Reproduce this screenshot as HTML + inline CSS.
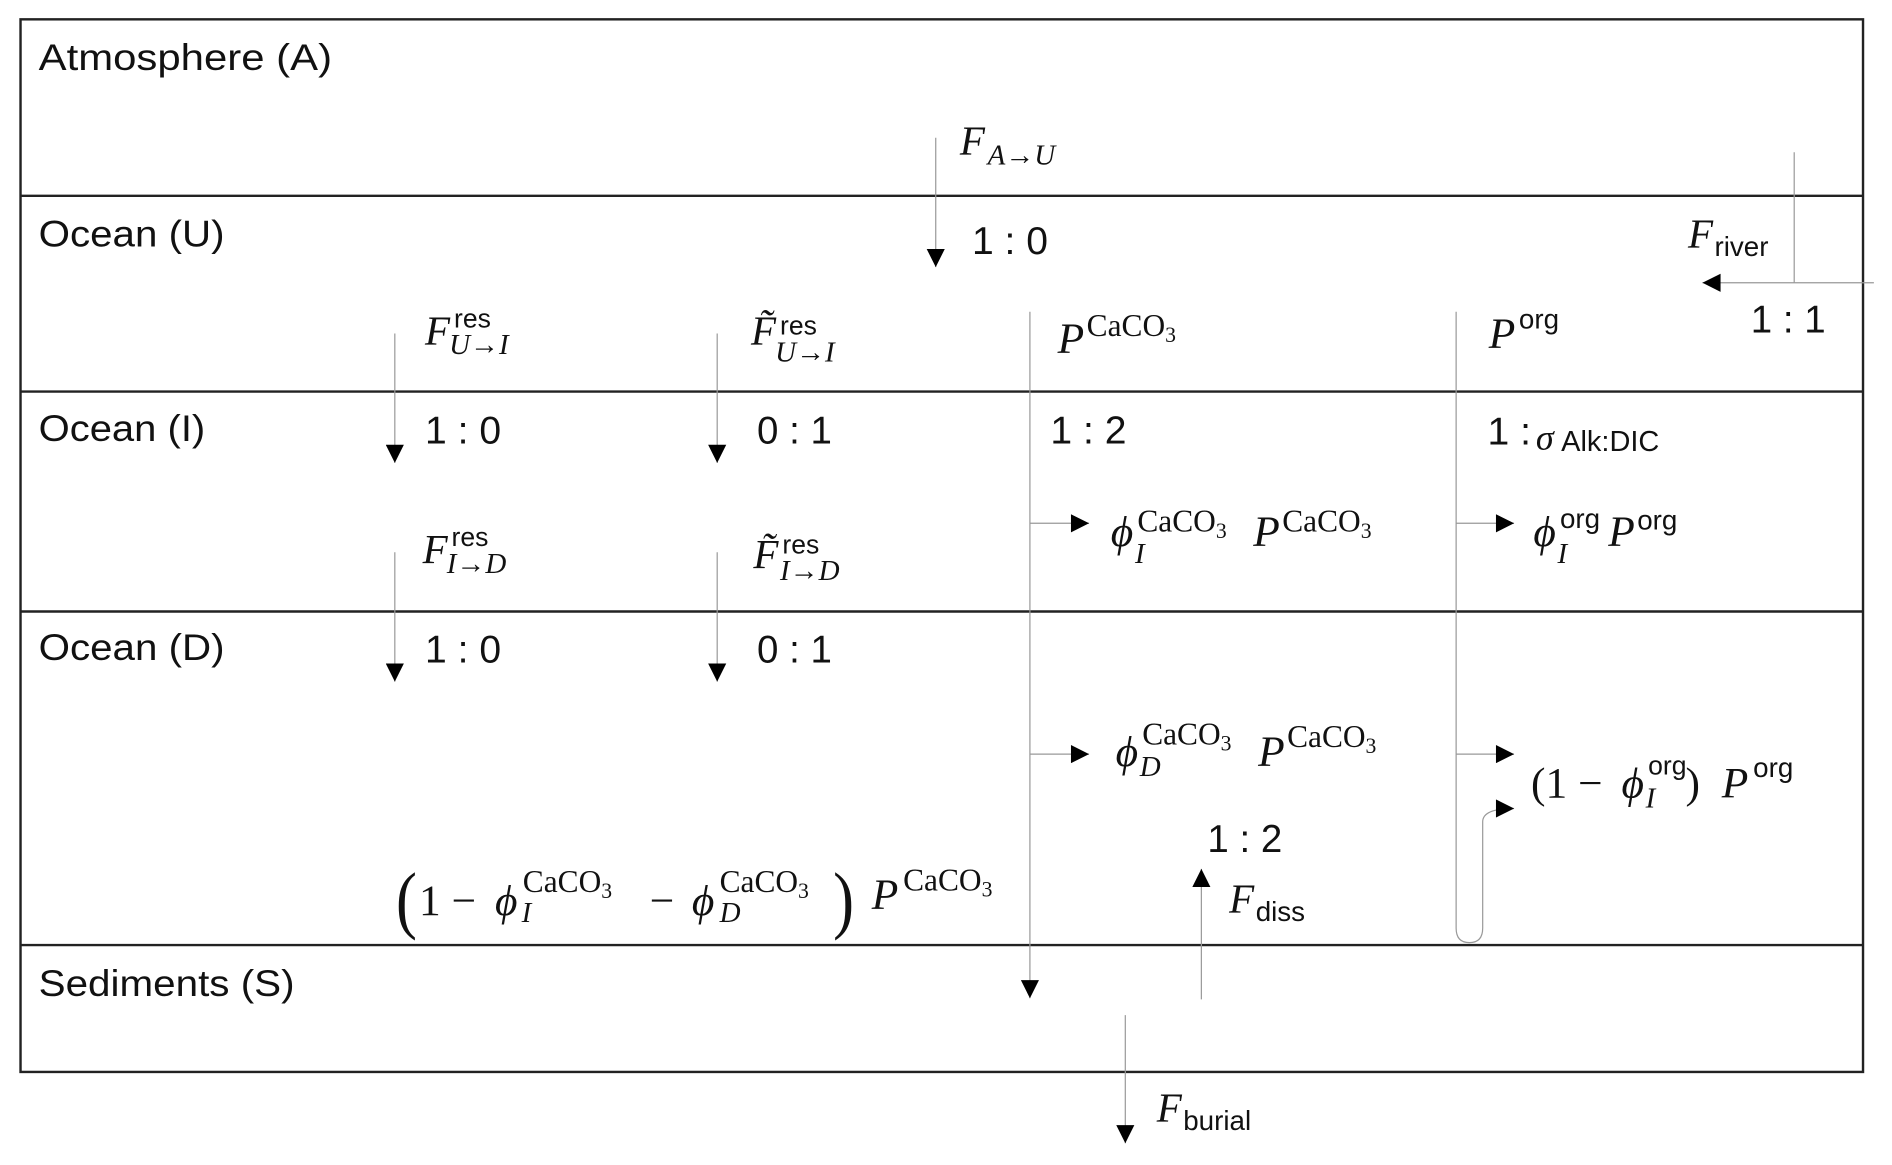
<!DOCTYPE html>
<html><head><meta charset="utf-8"><style>
html,body{margin:0;padding:0;background:#fff;}
svg{display:block;}
.s{font-family:"Liberation Sans","DejaVu Sans",sans-serif;fill:#111;}
.m{font-family:"Liberation Serif",serif;font-style:italic;fill:#111;}
.r{font-family:"Liberation Serif",serif;fill:#111;}
</style></head><body>
<svg width="1892" height="1165" viewBox="0 0 1567 964" preserveAspectRatio="none" xmlns="http://www.w3.org/2000/svg">
<defs>
<marker id="av" viewBox="0 0 10 10" markerWidth="18" markerHeight="15" refX="10" refY="5" orient="auto" markerUnits="userSpaceOnUse">
<path d="M0,0 L10,5 L0,10 z" fill="#000"/></marker>
</defs>
<rect x="17" y="16" width="1526" height="871" fill="none" stroke="#222" stroke-width="2"/>
<g stroke="#222" stroke-width="2">
<line x1="17" y1="162" x2="1543" y2="162"/><line x1="17" y1="324" x2="1543" y2="324"/>
<line x1="17" y1="506" x2="1543" y2="506"/><line x1="17" y1="782" x2="1543" y2="782"/>
</g>
<g class="s" font-size="31">
<text x="32" y="58" textLength="243" lengthAdjust="spacingAndGlyphs">Atmosphere (A)</text>
<text x="32" y="204" textLength="154" lengthAdjust="spacingAndGlyphs">Ocean (U)</text>
<text x="32" y="365" textLength="138" lengthAdjust="spacingAndGlyphs">Ocean (I)</text>
<text x="32" y="546" textLength="154" lengthAdjust="spacingAndGlyphs">Ocean (D)</text>
<text x="32" y="824" textLength="212" lengthAdjust="spacingAndGlyphs">Sediments (S)</text>
</g>
<g stroke="#999" stroke-width="1" fill="none" marker-end="url(#av)">
<line x1="775" y1="114" x2="775" y2="221"/>
<line x1="327" y1="276" x2="327" y2="383"/>
<line x1="594" y1="276" x2="594" y2="383"/>
<line x1="327" y1="457" x2="327" y2="564"/>
<line x1="594" y1="457" x2="594" y2="564"/>
<line x1="853" y1="258" x2="853" y2="826"/>
<line x1="853" y1="433" x2="902" y2="433"/>
<line x1="853" y1="624" x2="902" y2="624"/>
<line x1="1206" y1="433" x2="1254" y2="433"/>
<line x1="1206" y1="624" x2="1254" y2="624"/>
<path d="M1206,258 L1206,768 Q1206,780 1217,780 Q1228,780 1228,768 L1228,680 Q1228,669 1254,669"/>
<path d="M1486,126 L1486,234 M1552,234 L1410,234"/>
<line x1="995" y1="827" x2="995" y2="719"/>
<line x1="932" y1="840" x2="932" y2="946"/>
</g>
<g class="s" font-size="32">
<text x="805" y="210" textLength="63" lengthAdjust="spacingAndGlyphs">1 : 0</text>
<text x="1450" y="275" textLength="62" lengthAdjust="spacingAndGlyphs">1 : 1</text>
<text x="352" y="367" textLength="63" lengthAdjust="spacingAndGlyphs">1 : 0</text>
<text x="627" y="367" textLength="62" lengthAdjust="spacingAndGlyphs">0 : 1</text>
<text x="870" y="367" textLength="63" lengthAdjust="spacingAndGlyphs">1 : 2</text>
<text x="1232" y="368" textLength="36" lengthAdjust="spacingAndGlyphs">1 :</text>
<text x="352" y="548" textLength="63" lengthAdjust="spacingAndGlyphs">1 : 0</text>
<text x="627" y="548" textLength="62" lengthAdjust="spacingAndGlyphs">0 : 1</text>
<text x="1000" y="705" textLength="62" lengthAdjust="spacingAndGlyphs">1 : 2</text>
</g>
<text class="m" x="795" y="128" font-size="34">F</text>
<text class="m" x="818" y="136" font-size="24">A→U</text>
<text class="m" x="1398" y="205" font-size="34">F</text>
<text class="s" x="1420" y="212" font-size="23">river</text>
<text class="m" x="352" y="285" font-size="34">F</text>
<text class="s" x="376" y="271" font-size="22">res</text>
<text class="m" x="372" y="293" font-size="24">U→I</text>
<text class="m" x="622" y="285" font-size="34">F̃</text>
<text class="s" x="646" y="277" font-size="22">res</text>
<text class="m" x="642" y="299" font-size="24">U→I</text>
<text class="m" x="350" y="466" font-size="34">F</text>
<text class="s" x="374" y="452" font-size="22">res</text>
<text class="m" x="370" y="474" font-size="24">I→D</text>
<text class="m" x="624" y="470" font-size="34">F̃</text>
<text class="s" x="648" y="458" font-size="22">res</text>
<text class="m" x="646" y="480" font-size="24">I→D</text>
<text class="m" x="876" y="292" font-size="36">P</text>
<text class="r" x="900" y="278" font-size="26">CaCO<tspan font-size="18" dy="5">3</tspan></text>
<text class="m" x="1233" y="288" font-size="36">P</text>
<text class="s" x="1258" y="272" font-size="23">org</text>
<text class="m" x="1272" y="372" font-size="30">σ</text>
<text class="s" x="1293" y="373" font-size="24">Alk:DIC</text>
<text class="m" x="920" y="452" font-size="36">ϕ</text>
<text class="r" x="942" y="440" font-size="26">CaCO<tspan font-size="18" dy="5">3</tspan></text>
<text class="m" x="940" y="466" font-size="24">I</text>
<text class="m" x="1038" y="452" font-size="36">P</text>
<text class="r" x="1062" y="440" font-size="26">CaCO<tspan font-size="18" dy="5">3</tspan></text>
<text class="m" x="1270" y="452" font-size="36">ϕ</text>
<text class="s" x="1292" y="437" font-size="23">org</text>
<text class="m" x="1290" y="466" font-size="24">I</text>
<text class="m" x="1332" y="452" font-size="36">P</text>
<text class="s" x="1356" y="438" font-size="23">org</text>
<text class="m" x="924" y="634" font-size="36">ϕ</text>
<text class="r" x="946" y="616" font-size="26">CaCO<tspan font-size="18" dy="5">3</tspan></text>
<text class="m" x="944" y="642" font-size="24">D</text>
<text class="m" x="1042" y="634" font-size="36">P</text>
<text class="r" x="1066" y="618" font-size="26">CaCO<tspan font-size="18" dy="5">3</tspan></text>
<text class="r" x="1268" y="660" font-size="36">(1 −</text>
<text class="m" x="1343" y="660" font-size="36">ϕ</text>
<text class="s" x="1365" y="641" font-size="22">org</text>
<text class="m" x="1363" y="668" font-size="24">I</text>
<text class="r" x="1396" y="660" font-size="36">)</text>
<text class="m" x="1426" y="660" font-size="36">P</text>
<text class="s" x="1452" y="643" font-size="23">org</text>
<text class="r" x="328" y="765" font-size="52" transform="translate(0,-153) scale(1,1.2)">(</text>
<text class="r" x="690" y="765" font-size="52" transform="translate(0,-153) scale(1,1.2)">)</text>
<text class="r" x="347" y="757" font-size="36">1 −</text>
<text class="m" x="410" y="757" font-size="36">ϕ</text>
<text class="r" x="433" y="738" font-size="26">CaCO<tspan font-size="18" dy="5">3</tspan></text>
<text class="m" x="432" y="763" font-size="24">I</text>
<text class="r" x="538" y="757" font-size="36">−</text>
<text class="m" x="573" y="757" font-size="36">ϕ</text>
<text class="r" x="596" y="738" font-size="26">CaCO<tspan font-size="18" dy="5">3</tspan></text>
<text class="m" x="596" y="763" font-size="24">D</text>
<text class="m" x="722" y="752" font-size="36">P</text>
<text class="r" x="748" y="737" font-size="26">CaCO<tspan font-size="18" dy="5">3</tspan></text>
<text class="m" x="1018" y="755" font-size="34">F</text>
<text class="s" x="1040" y="762" font-size="23">diss</text>
<text class="m" x="958" y="928" font-size="34">F</text>
<text class="s" x="980" y="935" font-size="23">burial</text>
</svg>
</body></html>
